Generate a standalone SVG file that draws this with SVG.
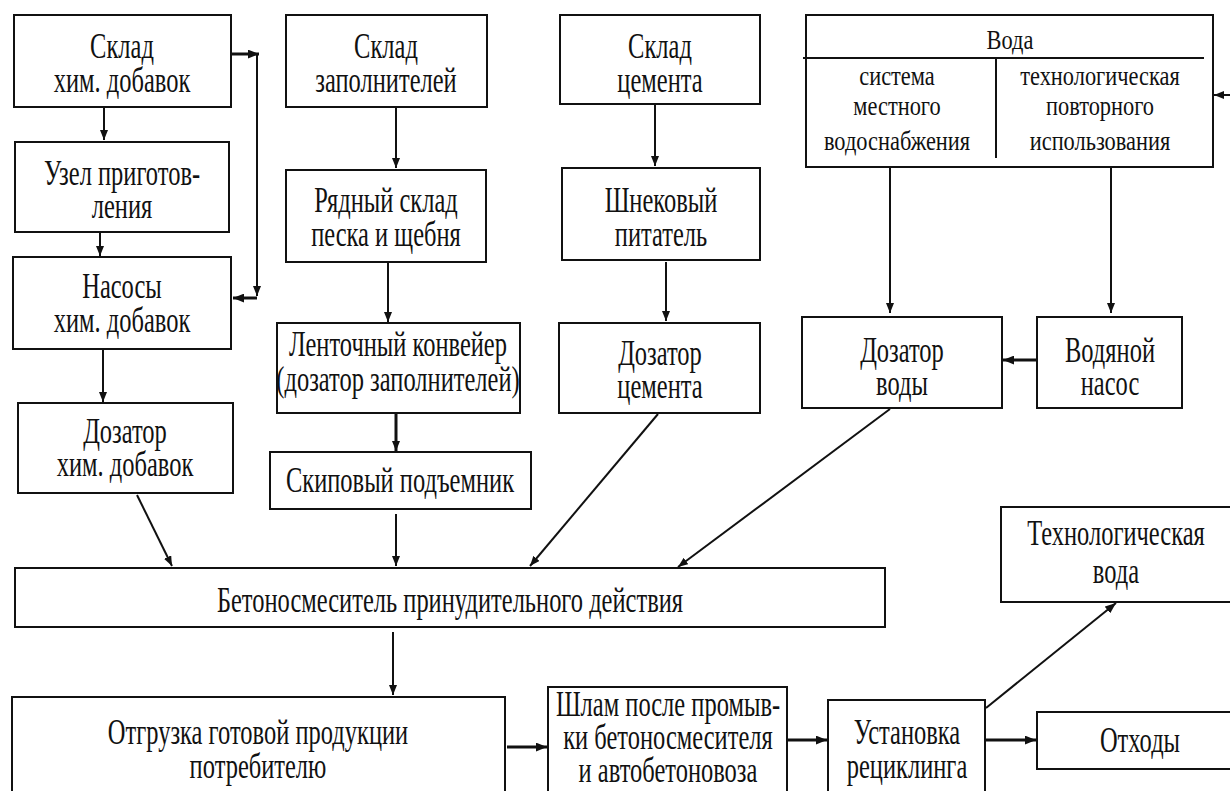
<svg xmlns="http://www.w3.org/2000/svg" width="1230" height="791" viewBox="0 0 1230 791">
<defs>
<style>
.b{fill:#fff;stroke:#111;stroke-width:2}
.t{font-family:"Liberation Serif","Times New Roman",serif;font-size:35px;fill:#111;text-anchor:middle}
.s{font-family:"Liberation Serif","Times New Roman",serif;font-size:28px;fill:#111;text-anchor:middle}
.c{fill:none;stroke:#111;stroke-width:2}
.k{fill:none;stroke:#111;stroke-width:3}
</style>
<marker id="a" viewBox="0 0 10 8" refX="10" refY="4" markerWidth="10" markerHeight="8" markerUnits="userSpaceOnUse" orient="auto">
<path d="M0,0 L10,4 L0,8 Z" fill="#111"/>
</marker>
<marker id="ak" viewBox="0 0 10 8" refX="10" refY="4" markerWidth="11" markerHeight="9" markerUnits="userSpaceOnUse" orient="auto">
<path d="M0,0 L10,4 L0,8 Z" fill="#111"/>
</marker>
</defs>
<rect width="1230" height="791" fill="#fff"/>

<g id="connectors">
<path class="c" d="M104,107 V140" marker-end="url(#a)"/>
<path class="c" d="M100,233 V256" marker-end="url(#a)"/>
<path class="c" d="M103,350 V402" marker-end="url(#a)"/>
<path class="k" d="M232,54 H259" marker-end="url(#ak)"/>
<path class="c" d="M257,54 V296" marker-end="url(#a)"/>
<path class="k" d="M257,298 H233" marker-end="url(#ak)"/>
<path class="c" d="M396,108 V168" marker-end="url(#a)"/>
<path class="c" d="M388,263 V322" marker-end="url(#a)"/>
<path class="k" d="M396,414 V451" marker-end="url(#a)"/>
<path class="c" d="M396,514 V566" marker-end="url(#a)"/>
<path class="c" d="M655,105 V166" marker-end="url(#a)"/>
<path class="c" d="M666,262 V321" marker-end="url(#a)"/>
<path class="c" d="M890,168 V313" marker-end="url(#a)"/>
<path class="c" d="M1111,168 V313" marker-end="url(#a)"/>
<path class="k" d="M1037,360 H1003" marker-end="url(#ak)"/>
<path class="c" d="M1230,95 H1214" marker-end="url(#a)"/>
<path class="c" d="M137,495 L172,566" marker-end="url(#a)"/>
<path class="c" d="M658,414 L530,566" marker-end="url(#a)"/>
<path class="c" d="M890,409 L678,567" marker-end="url(#a)"/>
<path class="c" d="M393,632 V695" marker-end="url(#a)"/>
<path class="k" d="M507,747 H547" marker-end="url(#ak)"/>
<path class="k" d="M788,740 H827" marker-end="url(#ak)"/>
<path class="k" d="M986,740 H1036" marker-end="url(#ak)"/>
<path class="c" d="M986,708 L1116,603" marker-end="url(#ak)"/>
</g>

<g id="n1"><rect class="b" x="14" y="15" width="217" height="92"/>
<text class="t" transform="translate(122 58) scale(0.7 1)">Склад</text>
<text class="t" transform="translate(122 92) scale(0.7 1)">хим. добавок</text></g>

<g id="n2"><rect class="b" x="15" y="142" width="214" height="90"/>
<text class="t" transform="translate(122 185) scale(0.7 1)">Узел приготов-</text>
<text class="t" transform="translate(122 218) scale(0.7 1)">ления</text></g>

<g id="n3"><rect class="b" x="13" y="257" width="218" height="92"/>
<text class="t" transform="translate(122 298) scale(0.7 1)">Насосы</text>
<text class="t" transform="translate(122 332) scale(0.7 1)">хим. добавок</text></g>

<g id="n4"><rect class="b" x="18" y="403" width="215" height="90"/>
<text class="t" transform="translate(125 443) scale(0.7 1)">Дозатор</text>
<text class="t" transform="translate(125 476) scale(0.7 1)">хим. добавок</text></g>

<g id="n5"><rect class="b" x="286" y="15" width="201" height="92"/>
<text class="t" transform="translate(386 58) scale(0.7 1)">Склад</text>
<text class="t" transform="translate(386 92) scale(0.7 1)">заполнителей</text></g>

<g id="n6"><rect class="b" x="286" y="170" width="200" height="92"/>
<text class="t" transform="translate(386 212) scale(0.7 1)">Рядный склад</text>
<text class="t" transform="translate(386 246) scale(0.7 1)">песка и щебня</text></g>

<g id="n7"><rect class="b" x="277" y="323" width="243" height="90"/>
<text class="t" transform="translate(398 356) scale(0.7 1)">Ленточный конвейер</text>
<text class="t" transform="translate(398 391) scale(0.7 1)">(дозатор заполнителей)</text></g>

<g id="n8"><rect class="b" x="270" y="452" width="261" height="57"/>
<text class="t" transform="translate(400 492) scale(0.7 1)">Скиповый подъемник</text></g>

<g id="n9"><rect class="b" x="560" y="15" width="200" height="89"/>
<text class="t" transform="translate(660 58) scale(0.7 1)">Склад</text>
<text class="t" transform="translate(660 92) scale(0.7 1)">цемента</text></g>

<g id="n10"><rect class="b" x="562" y="168" width="198" height="92"/>
<text class="t" transform="translate(661 212) scale(0.7 1)">Шнековый</text>
<text class="t" transform="translate(661 246) scale(0.7 1)">питатель</text></g>

<g id="n11"><rect class="b" x="559" y="323" width="201" height="90"/>
<text class="t" transform="translate(660 365) scale(0.7 1)">Дозатор</text>
<text class="t" transform="translate(660 398) scale(0.7 1)">цемента</text></g>

<g id="n12"><rect class="b" x="806" y="15" width="407" height="152"/>
<path class="c" d="M803,58 H1204 M996,58 V158"/>
<text class="s" transform="translate(1010 49) scale(0.8 1)">Вода</text>
<text class="s" transform="translate(897 85) scale(0.8 1)">система</text>
<text class="s" transform="translate(897 115) scale(0.8 1)">местного</text>
<text class="s" transform="translate(897 150) scale(0.8 1)">водоснабжения</text>
<text class="s" transform="translate(1100 85) scale(0.8 1)">технологическая</text>
<text class="s" transform="translate(1100 115) scale(0.8 1)">повторного</text>
<text class="s" transform="translate(1100 150) scale(0.8 1)">использования</text></g>

<g id="n13"><rect class="b" x="802" y="317" width="200" height="91"/>
<text class="t" transform="translate(902 362) scale(0.7 1)">Дозатор</text>
<text class="t" transform="translate(902 395) scale(0.7 1)">воды</text></g>

<g id="n14"><rect class="b" x="1037" y="317" width="145" height="91"/>
<text class="t" transform="translate(1110 362) scale(0.7 1)">Водяной</text>
<text class="t" transform="translate(1110 395) scale(0.7 1)">насос</text></g>

<g id="n15"><rect class="b" x="15" y="568" width="870" height="59"/>
<text class="t" transform="translate(450 612) scale(0.7 1)">Бетоносмеситель принудительного действия</text></g>

<g id="n16"><rect class="b" x="1001" y="507" width="235" height="95"/>
<text class="t" transform="translate(1116 545) scale(0.7 1)">Технологическая</text>
<text class="t" transform="translate(1116 583) scale(0.7 1)">вода</text></g>

<g id="n17"><rect class="b" x="12" y="697" width="493" height="100"/>
<text class="t" transform="translate(258 744) scale(0.7 1)">Отгрузка готовой продукции</text>
<text class="t" transform="translate(258 778) scale(0.7 1)">потребителю</text></g>

<g id="n18"><rect class="b" x="548" y="687" width="239" height="110"/>
<text class="t" transform="translate(668 716) scale(0.7 1)">Шлам после промыв-</text>
<text class="t" transform="translate(668 749) scale(0.7 1)">ки бетоносмесителя</text>
<text class="t" transform="translate(668 782) scale(0.7 1)">и автобетоновоза</text></g>

<g id="n19"><rect class="b" x="828" y="700" width="157" height="97"/>
<text class="t" transform="translate(907 744) scale(0.7 1)">Установка</text>
<text class="t" transform="translate(907 778) scale(0.7 1)">рециклинга</text></g>

<g id="n20"><rect class="b" x="1037" y="712" width="199" height="57"/>
<text class="t" transform="translate(1140 752) scale(0.7 1)">Отходы</text></g>
</svg>
